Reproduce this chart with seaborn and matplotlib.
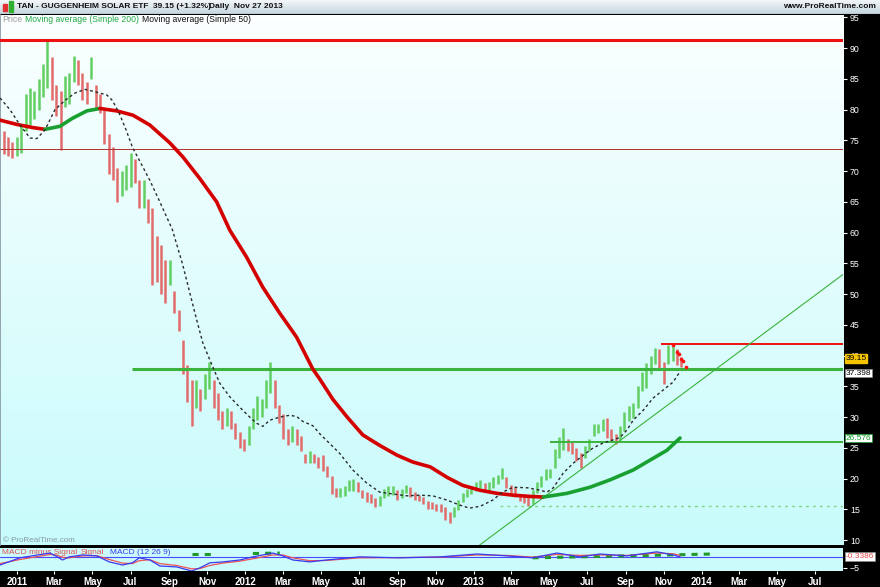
import numpy as np
import pandas as pd
import seaborn as sns
import matplotlib.pyplot as plt
from matplotlib.colors import LinearSegmentedColormap
from matplotlib.patches import Rectangle

W, H = 880, 587

# weekly price ranges, first week ending 2010-12-10
first_week = "2010-12-10"
bar_high = [
    76.5, 75.5, 74.8, 75.5, 77.5, 82.5, 83.5, 83.0, 85.0, 87.5,
    91.2, 88.5, 84.0, 83.0, 85.5, 86.0, 88.8, 88.0, 86.0, 84.5,
    88.5, 84.0, 82.5, 80.0, 76.0, 74.0, 70.5, 70.0, 71.0, 73.0,
    72.0, 68.5, 68.5, 65.5, 64.0, 59.5, 58.0, 55.5, 55.5, 50.5,
    47.5, 42.5, 38.5, 36.0, 36.0, 34.5, 37.0, 39.0, 36.0, 34.0,
    31.0, 31.5, 31.0, 29.0, 27.5, 26.5, 28.5, 31.5, 33.5, 33.0,
    36.0, 39.0, 36.0, 32.0, 30.5, 28.0, 28.5, 28.0, 27.0, 24.0,
    24.5, 24.0, 23.5, 23.8, 22.0, 20.5, 18.5, 18.5, 18.8, 19.8,
    20.0, 19.5, 18.2, 17.8, 17.5, 16.8, 17.2, 18.3, 18.8, 18.8,
    18.2, 18.3, 19.0, 18.7, 17.8, 17.4, 17.0, 16.3, 16.2, 15.9,
    15.8, 15.3, 14.6, 15.3, 16.5, 17.7, 18.3, 18.8, 19.5, 19.8,
    19.3, 19.5, 20.2, 20.6, 21.8, 20.2, 19.0, 18.7, 17.4, 17.4,
    17.2, 18.2, 19.4, 20.5, 21.6, 21.5, 24.8, 26.8, 28.2, 26.5,
    26.0, 25.0, 24.2, 25.3, 26.4, 28.8, 28.8, 29.7, 29.8, 28.0,
    27.2, 28.5, 30.8, 31.8, 32.3, 35.0, 37.3, 38.8, 39.9, 41.3,
    41.0, 39.0, 41.8, 42.0, 41.0, 39.8,
]
bar_low = [
    72.8, 72.5, 72.2, 72.5, 73.0, 76.5, 77.5, 78.5, 80.0, 82.0,
    83.5, 81.5, 79.0, 73.5, 80.5, 81.0, 84.5, 84.0, 81.5, 81.0,
    85.0, 80.0, 79.5, 74.5, 69.5, 68.5, 65.0, 66.0, 67.0, 67.5,
    68.0, 64.0, 64.0, 61.5, 51.5, 52.0, 50.0, 48.5, 51.5, 47.0,
    44.0, 37.0, 32.5, 28.5, 31.5, 31.0, 33.0, 34.5, 31.5, 29.5,
    28.0, 28.5, 28.0, 26.5, 25.0, 24.5, 25.5, 28.0, 29.5, 30.0,
    31.5, 34.0, 31.5, 29.0, 26.5, 25.5, 26.0, 25.5, 24.5, 22.5,
    22.5, 22.5, 21.8, 21.3, 20.2, 17.5, 17.0, 17.0, 17.2, 18.0,
    18.0, 17.8, 16.8, 16.2, 16.0, 15.3, 15.6, 16.8, 17.2, 17.4,
    16.6, 16.8, 17.6, 17.0, 16.6, 16.3, 15.9, 15.0, 15.1, 14.8,
    14.5, 13.2, 12.8, 13.8, 14.9, 16.2, 17.0, 17.5, 18.0, 18.4,
    17.8, 18.0, 18.5, 19.2, 20.0, 18.4, 17.3, 17.0, 16.3, 16.0,
    15.6, 15.8, 17.6, 18.6, 19.8, 20.1, 21.8, 23.4, 24.6, 24.5,
    24.0, 22.8, 21.8, 23.4, 24.5, 27.0, 27.4, 27.8, 26.6, 26.0,
    25.7, 26.2, 27.8, 29.4, 29.9, 31.5, 34.3, 34.8, 37.0, 38.7,
    38.0, 35.4, 38.7, 39.2, 38.4, 38.2,
]

# simple moving average 200 (thick line)
ma200_dates = [
    "2010-12-04", "2010-12-31", "2011-01-25", "2011-02-14", "2011-03-10",
    "2011-03-30", "2011-04-22", "2011-05-13", "2011-06-09", "2011-07-05",
    "2011-08-01", "2011-09-02", "2011-09-23", "2011-10-20", "2011-11-16",
    "2011-12-07", "2012-01-03", "2012-01-29", "2012-02-25", "2012-03-23",
    "2012-04-18", "2012-04-29", "2012-05-20", "2012-06-12", "2012-07-07",
    "2012-08-03", "2012-08-31", "2012-09-25", "2012-10-23", "2012-11-19",
    "2012-12-14", "2013-01-11", "2013-02-07", "2013-03-05", "2013-04-01",
    "2013-04-22", "2013-05-30", "2013-07-06", "2013-08-07", "2013-09-13",
    "2013-10-15", "2013-11-06", "2013-11-27",
]
ma200_vals = [
    78.3, 77.6, 77.1, 76.8, 77.3, 78.6, 79.8, 80.2, 79.8, 79.1,
    77.5, 74.6, 72.3, 68.8, 65.0, 60.4, 56.0, 51.1, 46.9, 43.0,
    37.8, 36.2, 32.9, 30.0, 27.1, 25.4, 23.8, 22.7, 21.9, 20.2,
    18.9, 18.1, 17.6, 17.3, 17.1, 17.0, 17.6, 18.6, 19.8, 21.4,
    23.3, 24.6, 26.6,
]
ma200_turns = ["2011-02-14", "2011-05-13", "2013-04-22"]

# simple moving average 50 (dashed)
ma50_dates = [
    "2010-12-04", "2010-12-20", "2011-01-05", "2011-01-21", "2011-02-01",
    "2011-02-14", "2011-03-02", "2011-03-18", "2011-04-03", "2011-04-19",
    "2011-05-02", "2011-05-13", "2011-05-24", "2011-06-02", "2011-06-13",
    "2011-06-24", "2011-07-04", "2011-07-15", "2011-08-01", "2011-08-17",
    "2011-09-06", "2011-09-22", "2011-10-04", "2011-10-15", "2011-10-25",
    "2011-11-10", "2011-11-21", "2011-12-07", "2011-12-23", "2012-01-08",
    "2012-01-19", "2012-01-29", "2012-02-09", "2012-02-25", "2012-03-12",
    "2012-03-23", "2012-04-02", "2012-04-18", "2012-04-29", "2012-05-10",
    "2012-05-31", "2012-06-21", "2012-07-13", "2012-08-03", "2012-08-24",
    "2012-09-15", "2012-10-06", "2012-10-27", "2012-11-19", "2012-12-09",
    "2012-12-25", "2013-01-11", "2013-01-31", "2013-02-16", "2013-03-05",
    "2013-03-28", "2013-04-17", "2013-04-28", "2013-05-08", "2013-05-24",
    "2013-06-09", "2013-06-25", "2013-07-11", "2013-07-27", "2013-08-12",
    "2013-08-23", "2013-09-03", "2013-09-13", "2013-09-29", "2013-10-15",
    "2013-10-31", "2013-11-16", "2013-11-27",
]
ma50_vals = [
    81.9, 80.0, 77.5, 75.4, 75.3, 76.7, 80.0, 81.5, 82.7, 83.3,
    83.0, 82.7, 82.4, 81.5, 79.4, 76.7, 73.9, 71.8, 68.5, 65.0,
    60.5, 55.0, 50.2, 45.8, 42.0, 38.1, 35.5, 33.3, 31.6, 30.0,
    29.0, 28.5, 29.5, 30.0, 30.3, 30.1, 29.3, 28.6, 27.3, 26.2,
    24.1, 21.4, 19.3, 17.8, 17.5, 17.2, 17.3, 17.2, 16.5, 15.7,
    15.2, 15.5, 16.5, 17.8, 18.6, 18.5, 18.1, 17.8, 18.5, 20.9,
    22.5, 23.8, 25.0, 25.8, 26.3, 26.7, 27.9, 29.5, 31.1, 33.1,
    34.4, 35.7, 37.4,
]

# stop dots at the end of the series
sar_dates = ["2013-11-15", "2013-11-22", "2013-11-25", "2013-11-29", "2013-12-02", "2013-12-06"]
sar_vals = [41.7, 40.6, 40.3, 39.5, 39.2, 38.2]

# drawn support / resistance lines
top_resistance = 91.3
thin_level = 73.6
green_support = ("2011-07-03", 37.8)
red_recent = ("2013-10-28", 41.9)
green_recent = ("2013-05-03", 25.9)
dotted_support = ("2013-02-12", 15.5)
trend_start = ("2013-01-01", 8.5)
trend_end = ("2014-08-15", 53.2)

# MACD (12 26 9)
macd_dates = [
    "2010-12-04", "2011-01-05", "2011-02-22", "2011-03-06", "2011-03-14",
    "2011-03-25", "2011-04-15", "2011-05-08", "2011-05-28", "2011-06-18",
    "2011-07-04", "2011-07-15", "2011-08-01", "2011-08-17", "2011-09-13",
    "2011-10-07", "2011-10-20", "2011-11-05", "2011-11-26", "2011-12-23",
    "2012-01-13", "2012-02-14", "2012-03-01", "2012-03-17", "2012-04-13",
    "2012-05-10", "2012-07-02", "2012-09-04", "2012-11-08", "2013-01-06",
    "2013-02-23", "2013-04-05", "2013-05-14", "2013-06-20", "2013-07-22",
    "2013-09-03", "2013-10-21", "2013-11-16", "2013-11-27",
]
macd_line = [
    -3.8, -0.8, 1.2, -0.4, -1.7, -0.4, 0.4, 0.0, -2.5, -3.8,
    -2.9, -0.8, -1.7, -4.2, -4.6, -6.3, -5.0, -2.9, -2.5, -1.7,
    -0.4, 1.2, 0.0, -1.7, -2.5, -1.7, -0.4, -0.8, -0.4, 0.8,
    0.0, -0.8, 1.2, -0.4, 0.8, 0.0, 1.7, 0.4, -0.4,
]
signal_line = [
    -3.2, -1.5, 0.6, 0.3, -0.6, -0.8, 0.0, 0.1, -1.5, -3.0,
    -3.2, -2.0, -1.6, -3.2, -4.0, -5.4, -5.3, -4.0, -3.0, -2.2,
    -1.2, 0.4, 0.4, -0.8, -2.0, -1.9, -0.8, -0.7, -0.5, 0.4,
    0.2, -0.5, 0.6, 0.2, 0.4, 0.2, 1.2, 0.9, 0.2,
]
hist_segments = [
    ("2011-10-08", "2011-11-10", 0.9, 0.9),
    ("2012-01-13", "2012-02-25", 1.0, 1.2),
    ("2013-04-05", "2014-01-19", -0.8, 0.8),
]

x_start, x_end = pd.Timestamp("2010-12-04"), pd.Timestamp("2014-08-15")
price_ticks = list(range(10, 100, 5))

RED = "#d40000"
GREEN = "#18a030"
LINE_GREEN = "#3cb33c"

sns.set_theme(style="white")
plt.rcParams["font.family"] = ["Liberation Sans", "DejaVu Sans"]


def px_box(x0, y0, x1, y1):
    return [x0 / W, 1 - y1 / H, (x1 - x0) / W, (y1 - y0) / H]


fig = plt.figure(figsize=(W / 100, H / 100), dpi=100, facecolor="black")

# title bar
ax_title = fig.add_axes(px_box(0, 0, W, 14))
ax_title.imshow(np.linspace(0, 1, 20).reshape(-1, 1), aspect="auto",
                cmap=LinearSegmentedColormap.from_list("t", ["#f2f6f8", "#c6d6e0"]),
                extent=[0, 1, 0, 1])
ax_title.set_xlim(0, 1)
ax_title.set_ylim(0, 1)
ax_title.axis("off")
ax_title.axhline(0.02, color="#8c9cab", lw=1.0)
ax_title.add_patch(Rectangle((3 / W, 0.2), 4 / W, 0.5, color="#e03030"))
ax_title.add_patch(Rectangle((9 / W, 0.15), 4 / W, 0.75, color="#30b030"))
title_kw = dict(fontsize=6.0, weight="bold", va="center", color="#111111")
fig.text(17 / W, 1 - 7 / H, "TAN - GUGGENHEIM SOLAR ETF", **title_kw)
fig.text(153 / W, 1 - 7 / H, "39.15 (+1.32%)", **title_kw)
fig.text(209 / W, 1 - 7 / H, "Daily  Nov 27 2013", **title_kw)
fig.text(876 / W, 1 - 7 / H, "www.ProRealTime.com", ha="right", fontsize=6.0,
         weight="bold", va="center", color="#111111")

# main panel background gradient
ax_bg = fig.add_axes(px_box(0, 15, 843, 545))
ax_bg.imshow(np.linspace(0, 1, 100).reshape(-1, 1), aspect="auto",
             cmap=LinearSegmentedColormap.from_list("bg", ["#fbffff", "#c8fbfb"]),
             extent=[0, 1, 0, 1])
ax_bg.axis("off")

ax = fig.add_axes(px_box(0, 15, 843, 545), facecolor="none")
ax_macd = fig.add_axes(px_box(0, 548, 843, 571), facecolor="#cbfbfb", sharex=ax)

# price bars
weeks = pd.date_range(first_week, periods=len(bar_high), freq="7D")
mid = (np.array(bar_high) + np.array(bar_low)) / 2
bar_colors = ["#62cf62" if i > 0 and mid[i] >= mid[i - 1] else "#e26c6c" for i in range(len(mid))]
ax.vlines(weeks, bar_low, bar_high, colors=bar_colors, lw=1.8, zorder=2)

# horizontal levels and trend line
ax.axhline(top_resistance, color="#ee1111", lw=2.2, zorder=3)
ax.axhline(thin_level, color="#b03030", lw=0.7, zorder=3)
ax.hlines(green_support[1], pd.Timestamp(green_support[0]), x_end, color=LINE_GREEN, lw=2.2, zorder=3)
ax.hlines(red_recent[1], pd.Timestamp(red_recent[0]), x_end, color="#ee1111", lw=1.4, zorder=3)
ax.hlines(green_recent[1], pd.Timestamp(green_recent[0]), x_end, color=LINE_GREEN, lw=1.4, zorder=3)
ax.hlines(dotted_support[1], pd.Timestamp(dotted_support[0]), x_end, color="#7fd47f", lw=1.0,
          linestyles=(0, (2, 3)), zorder=3)
ax.plot([pd.Timestamp(trend_start[0]), pd.Timestamp(trend_end[0])],
        [trend_start[1], trend_end[1]], color=LINE_GREEN, lw=0.8, zorder=3)

# moving averages
ma200 = pd.DataFrame({"date": pd.to_datetime(ma200_dates), "value": ma200_vals})
turns = pd.to_datetime(ma200_turns)
bounds = [ma200["date"].min()] + list(turns) + [ma200["date"].max()]
seg_colors = [RED, GREEN, RED, GREEN]
for a, b, col in zip(bounds[:-1], bounds[1:], seg_colors):
    part = ma200[(ma200["date"] >= a) & (ma200["date"] <= b)]
    sns.lineplot(data=part, x="date", y="value", ax=ax, color=col, lw=2.6,
                 estimator=None, sort=False, zorder=4, solid_joinstyle="round")

ma50 = pd.DataFrame({"date": pd.to_datetime(ma50_dates), "value": ma50_vals})
sns.lineplot(data=ma50, x="date", y="value", ax=ax, color="#2a2a2a", lw=1.0,
             linestyle=(0, (2, 2)), estimator=None, sort=False, zorder=4)

ax.scatter(pd.to_datetime(sar_dates), sar_vals, s=7, color="#ff1010", zorder=5, linewidths=0)

ax.set_xlim(x_start, x_end)
ax.set_ylim(9.2, 95.4)
ax.set_xlabel("")
ax.set_ylabel("")
ax.yaxis.tick_right()
ax.set_yticks(price_ticks)
ax.tick_params(axis="y", colors="white", labelcolor="white", labelsize=6.3, length=3,
               width=0.8, pad=2, right=True, left=False)
ax.tick_params(axis="x", labelbottom=False, bottom=False, length=0)
for sp in ax.spines.values():
    sp.set_visible(False)
ax.spines["left"].set_visible(True)
ax.spines["left"].set_color("#8a9aa6")

# legend line and watermark
leg_kw = dict(fontsize=6.2, va="center")
fig.text(2 / W, 1 - 20 / H, "Price", color="#9a9a9a", **leg_kw)
fig.text(25 / W, 1 - 20 / H, "Moving average (Simple 200)", color="#22a844", **leg_kw)
fig.text(142 / W, 1 - 20 / H, "Moving average (Simple 50)", color="#111111", **leg_kw)
fig.text(3 / W, 1 - 540 / H, "\u00a9 ProRealTime.com", fontsize=5.8, color="#8899a8", va="center")

# value boxes on the price scale
yx = ax.get_yaxis_transform()
ax.annotate("39.15", xy=(1.003, 39.15), xycoords=yx, xytext=(0, 1.5), textcoords="offset points",
            fontsize=6.0, va="center", ha="left", color="black", zorder=6,
            bbox=dict(boxstyle="square,pad=0.1", fc="#f5c400", ec="#f5c400"))
ax.annotate("37.398", xy=(1.003, 37.398), xycoords=yx, xytext=(0, -1.0), textcoords="offset points",
            fontsize=6.0, va="center", ha="left", color="black", zorder=6,
            bbox=dict(boxstyle="square,pad=0.1", fc="white", ec="#888888", lw=0.5))
ax.text(1.003, 26.576, "26.576", color="#18a030", fontsize=6.0, va="center", ha="left",
        transform=yx, bbox=dict(boxstyle="square,pad=0.1", fc="white", ec="#18a030", lw=0.5))

# MACD panel
macd = pd.DataFrame({"date": pd.to_datetime(macd_dates), "macd": macd_line, "signal": signal_line})
ax_macd.axhline(-0.34, color="#4a4aff", lw=0.8, zorder=1)
for a, b, v0, v1 in hist_segments:
    ax_macd.plot([pd.Timestamp(a), pd.Timestamp(b)], [v0, v1], color="#1f9a2a", lw=2.2,
                 linestyle=(0, (2, 2)), zorder=2)
sns.lineplot(data=macd, x="date", y="signal", ax=ax_macd, color="#ee5555", lw=0.9,
             estimator=None, sort=False, zorder=3)
sns.lineplot(data=macd, x="date", y="macd", ax=ax_macd, color="#3a3aee", lw=0.9,
             estimator=None, sort=False, zorder=4)
ax_macd.set_ylim(-6.3, 3.3)
ax_macd.set_xlabel("")
ax_macd.set_ylabel("")
ax_macd.yaxis.tick_right()
ax_macd.set_yticks([-5])
ax_macd.tick_params(axis="y", colors="white", labelcolor="white", labelsize=6.3, length=3,
                    width=0.8, pad=2, right=True, left=False)
for sp in ax_macd.spines.values():
    sp.set_visible(False)
ax_macd.text(1.003, -0.34, "-0.3386", transform=ax_macd.get_yaxis_transform(), fontsize=6.0,
             va="center", ha="left", color="#e05050",
             bbox=dict(boxstyle="square,pad=0.1", fc="white", ec="#888888", lw=0.5))
macd_kw = dict(transform=ax_macd.transAxes, fontsize=6.0, va="center", zorder=1)
ax_macd.text(2 / 843, 0.8, "MACD minus Signal", color="#e05050", **macd_kw)
ax_macd.text(81 / 843, 0.8, "Signal", color="#e05050", **macd_kw)
ax_macd.text(110 / 843, 0.8, "MACD (12 26 9)", color="#3a3aee", **macd_kw)

# date axis
date_ticks = pd.date_range("2011-01-01", "2014-07-01", freq="2MS")
ax_macd.set_xticks(date_ticks)
ax_macd.set_xticklabels([str(d.year) if d.month == 1 else d.strftime("%b") for d in date_ticks])
ax_macd.tick_params(axis="x", colors="white", labelcolor="white", labelsize=7, length=2,
                    width=0.8, pad=2, bottom=True)
for lab in ax_macd.get_xticklabels():
    lab.set_fontweight("bold")
ax_macd.set_xlim(x_start, x_end)

fig.savefig("out.png", dpi=100, facecolor="black")
